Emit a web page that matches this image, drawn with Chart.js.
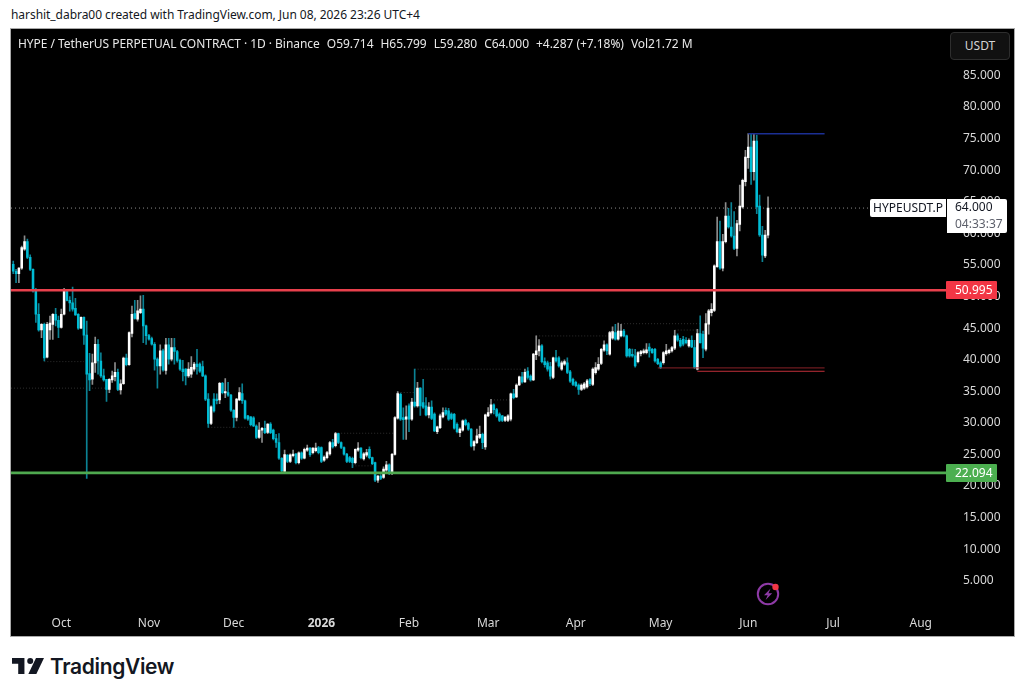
<!DOCTYPE html>
<html>
<head>
<meta charset="utf-8">
<title>HYPEUSDT.P daily</title>
<script src="https://cdn.jsdelivr.net/npm/chart.js@4"></script>
<style>
  html, body { margin: 0; padding: 0; background: #fff; width: 1024px; height: 698px; overflow: hidden; }
  body { position: relative; font-family: "Noto Sans", sans-serif; }
  .abs { position: absolute; white-space: nowrap; }
  #frame { left: 10px; top: 28px; width: 1003px; height: 607px; background: #000; border: 1px solid #a9a9a9; box-sizing: content-box; }
  #wrap { left: 11px; top: 29px; width: 1002px; height: 606px; }
  #credit { left: 11px; top: 7px; font-size: 12px; line-height: 16px; color: #131722; letter-spacing: -0.05px; }
  #legend { left: 18px; top: 36px; font-size: 12px; line-height: 16px; color: #e8e8e8; letter-spacing: -0.04px; }
  #legend span { margin-left: 7px; }
  #unit { left: 950px; top: 32px; width: 58px; height: 26px; line-height: 26px; text-align: center; font-size: 12px; color: #d4d4d4; background: #111; border: 1px solid #2e2e2e; border-radius: 4px; box-sizing: content-box; }
  .tag { font-size: 12px; line-height: 18px; height: 18px; }
  #tagSym { left: 870px; width: 76px; background: #fff; color: #131722; border-radius: 2px 0 0 2px; text-align: center; }
  #tagLast { left: 947px; width: 52px; padding-left: 8px; height: 34px; background: #fff; color: #131722; border-radius: 0 2px 2px 0; line-height: 16px; }
  #tagLast div { height: 17px; }
  #tagLast .cd { color: #5d606b; }
  .lvl { left: 946px; width: 42px; padding-left: 9px; color: #fff; border-radius: 1px; }
  #brand { left: 50px; top: 653px; font-family: Inter, "Noto Sans", sans-serif; font-size: 21px; line-height: 28px; font-weight: 600; color: #131722; letter-spacing: -0.35px; }
</style>
</head>
<body>
<div class="abs" id="credit">harshit_dabra00 created with TradingView.com, Jun 08, 2026 23:26 UTC+4</div>
<div class="abs" id="frame"></div>
<div class="abs" id="wrap"><canvas id="chart" width="1002" height="606"></canvas></div>
<div class="abs" id="legend">HYPE / TetherUS PERPETUAL CONTRACT · 1D · Binance<span>O59.714</span><span>H65.799</span><span>L59.280</span><span>C64.000</span><span>+4.287 (+7.18%)</span><span>Vol21.72 M</span></div>
<div class="abs" id="unit">USDT</div>
<div class="abs tag" id="tagSym">HYPEUSDT.P</div>
<div class="abs tag" id="tagLast"><div>64.000</div><div class="cd">04:33:37</div></div>
<div class="abs tag lvl" id="tagRes" style="background:#f23645">50.995</div>
<div class="abs tag lvl" id="tagSup" style="background:#4caf50">22.094</div>

<svg class="abs" style="left:756px;top:582px" width="26" height="26" viewBox="0 0 26 26">
  <circle cx="12" cy="12" r="10.2" fill="none" stroke="#8e3aa6" stroke-width="2"/>
  <path d="M14.6 6.5 8 13.2h3.7L9.6 18l6.6-6.8h-3.7z" fill="#8e3aa6"/>
  <circle cx="19.5" cy="5" r="3.2" fill="#f23645"/>
</svg>
<svg class="abs" style="left:12px;top:655px" width="32" height="22" viewBox="0 0 36 24">
  <path d="M14 3H0v6.5h7V21h7z" fill="#131722"/>
  <circle cx="20.5" cy="6.3" r="3.4" fill="#131722"/>
  <path d="M27 3h9l-8.6 18h-9z" fill="#131722"/>
</svg>
<div class="abs" id="brand">TradingView</div>

<script>
// Daily candles, Sep 14 2025 to Jun 8 2026
const firstDay = -17;   // days relative to Oct 1 2025
const opens = [
  55.10,54.00,53.60,54.50,57.50,58.70,56.20,54.30,51.00,47.20,
  44.70,45.60,40.40,44.70,45.60,47.20,46.25,45.10,47.20,50.90,
  49.40,49.00,48.15,47.20,45.00,46.70,43.90,37.80,36.90,39.50,
  42.45,39.80,37.45,36.90,35.30,36.80,37.30,38.00,35.20,36.20,
  40.24,39.20,44.15,47.30,46.40,47.45,48.00,45.35,43.80,43.35,
  42.45,40.10,39.00,41.40,38.30,42.35,40.10,41.90,41.30,39.90,
  38.50,38.50,37.45,37.70,38.50,39.30,39.30,38.90,37.45,33.75,
  29.90,33.75,33.75,33.65,36.25,34.75,34.80,34.40,32.00,30.85,
  33.65,34.64,33.50,31.10,30.95,30.80,29.50,27.70,28.85,29.15,
  28.50,29.80,28.85,27.50,26.90,24.40,22.30,24.90,23.90,24.80,
  25.05,23.70,25.25,24.40,25.70,26.00,25.30,25.60,26.10,26.10,
  24.10,24.50,25.10,26.90,26.40,28.30,26.90,26.10,25.05,24.50,
  24.40,23.70,25.70,26.00,24.30,24.90,25.80,24.50,23.70,20.92,
  21.60,21.35,22.50,23.35,22.00,25.00,30.75,34.50,30.85,30.60,
  32.70,30.60,33.30,32.70,35.50,33.20,32.70,31.25,32.50,31.40,
  28.60,29.26,30.95,32.00,31.90,31.40,31.37,29.78,28.47,28.84,
  30.40,29.90,29.00,26.36,26.88,27.70,28.20,26.20,31.10,31.60,
  32.85,32.10,31.40,31.10,30.40,30.40,30.60,34.60,34.10,36.00,
  37.30,36.50,38.20,37.40,36.80,40.80,41.40,42.20,39.70,39.50,
  38.90,37.20,40.30,40.30,38.50,39.30,39.50,38.10,36.90,36.40,
  36.00,35.30,35.50,35.70,36.85,36.10,37.96,38.50,39.40,41.50,
  42.34,40.86,43.40,44.30,43.24,43.76,44.55,43.76,41.65,40.86,
  40.60,39.70,40.97,41.10,41.13,42.00,41.65,41.65,40.07,39.50,
  39.54,40.97,41.13,41.39,41.81,43.76,43.08,43.24,43.08,42.18,
  43.08,41.92,38.50,44.13,44.03,41.65,45.61,47.45,47.82,54.73,
  58.69,54.47,58.69,62.75,61.01,59.58,57.63,61.43,64.17,68.18,
  71.98,73.67,69.76,74.62,64.33,59.74,56.42,59.714
];
const highs = [
  55.60,54.30,54.60,58.00,59.60,59.10,56.60,54.40,51.30,48.90,
  45.70,45.80,45.90,46.90,47.30,48.15,46.90,48.00,51.30,51.15,
  50.00,51.50,49.70,47.30,46.80,46.80,46.10,41.00,40.90,43.60,
  43.20,41.10,38.50,36.90,37.00,38.20,39.55,38.50,36.80,40.40,
  40.90,44.40,48.50,49.40,49.40,50.10,50.20,45.50,44.00,43.60,
  42.70,40.30,42.35,41.70,43.40,43.40,43.40,43.40,41.50,40.10,
  39.90,38.60,39.55,40.50,39.60,41.66,39.50,39.80,37.60,34.65,
  32.70,34.65,34.60,36.40,36.40,37.00,36.40,34.50,32.10,33.90,
  35.60,36.20,33.60,31.20,31.00,31.00,29.70,30.05,29.30,30.30,
  29.90,30.05,29.00,28.20,28.30,24.50,25.70,25.00,25.10,25.70,
  25.20,25.40,25.40,26.00,26.50,26.10,26.10,26.80,26.30,26.20,
  24.80,25.50,27.10,27.40,28.50,28.40,27.00,26.20,25.20,24.70,
  24.60,25.90,26.90,26.10,25.30,25.80,26.20,24.60,23.80,21.70,
  21.80,23.03,23.90,23.50,25.20,31.00,34.95,34.70,32.40,32.70,
  33.00,33.90,38.50,36.40,35.60,36.90,34.00,33.20,33.50,31.60,
  29.50,31.40,32.40,32.40,32.30,31.60,31.50,30.00,29.20,30.50,
  30.60,30.10,29.10,27.20,29.00,29.50,28.40,31.40,32.42,33.74,
  33.00,32.30,31.60,31.20,31.00,31.30,34.70,35.30,36.20,37.40,
  38.00,38.50,38.75,37.60,41.00,43.76,43.20,42.40,40.30,39.80,
  39.60,40.40,41.50,40.50,39.80,40.00,40.30,38.30,37.10,36.60,
  36.20,36.20,36.40,36.90,37.00,38.70,39.54,40.33,41.80,43.00,
  42.50,44.50,45.20,45.60,45.80,45.60,44.80,43.90,41.80,41.70,
  41.65,41.30,41.50,41.70,42.55,42.55,41.80,41.80,40.20,39.70,
  41.30,42.44,41.70,42.10,44.66,44.10,43.40,43.70,43.50,43.30,
  43.76,43.08,44.80,46.93,44.55,47.30,47.98,48.88,55.00,62.59,
  61.96,59.85,64.86,63.96,64.86,63.43,62.06,67.65,68.60,73.14,
  75.78,75.78,75.67,75.56,66.07,61.11,60.48,65.799
];
const lows = [
  53.63,52.20,52.20,54.30,57.30,56.00,54.10,50.70,45.90,44.50,
  43.50,39.80,40.30,43.20,43.20,45.35,43.50,45.00,47.10,49.30,
  47.70,47.70,47.00,44.80,44.90,42.40,21.20,35.10,36.10,38.00,
  37.70,37.20,36.60,33.40,34.80,36.40,36.65,35.10,34.55,36.10,
  39.00,39.10,43.60,46.40,46.10,47.30,42.70,42.40,43.10,42.30,
  38.35,35.50,37.70,38.20,37.70,39.30,39.80,39.30,39.60,38.30,
  36.65,36.00,37.20,37.20,38.20,37.70,38.00,37.30,33.50,29.30,
  29.70,31.70,33.00,33.05,34.60,34.00,34.20,31.80,29.30,30.30,
  33.50,33.10,30.60,30.40,29.50,29.40,27.50,27.55,26.90,28.30,
  28.30,28.30,27.30,26.10,24.20,22.10,22.20,23.70,23.70,24.60,
  23.50,23.50,24.20,24.30,25.50,24.70,25.10,25.40,25.10,23.70,
  23.90,24.30,24.90,26.00,26.20,26.70,25.90,24.90,23.70,23.70,
  22.90,23.50,25.50,24.30,24.10,24.60,24.30,23.40,20.70,20.56,
  21.00,21.20,22.30,21.80,21.80,24.90,30.60,30.40,27.40,27.40,
  28.60,30.40,32.50,32.50,31.20,32.30,31.10,30.80,30.50,28.60,
  28.30,29.10,30.80,31.20,30.40,30.50,29.00,28.40,27.80,28.70,
  29.50,28.80,26.20,25.67,26.70,27.50,25.90,25.80,31.00,31.40,
  31.40,30.90,30.20,30.20,30.20,30.20,30.30,33.80,34.00,35.90,
  36.30,36.40,36.90,36.60,36.70,40.00,40.60,39.50,38.80,38.20,
  36.90,37.00,39.60,38.80,38.30,39.10,37.80,36.40,35.90,35.70,
  34.50,35.10,35.30,35.50,35.90,35.90,37.70,38.30,39.20,41.30,
  40.80,40.70,43.20,43.10,43.10,43.60,43.60,40.40,40.40,40.40,
  38.80,39.50,40.60,40.90,40.90,40.40,41.00,39.60,39.20,38.60,
  39.30,40.70,40.90,41.20,41.60,42.90,42.00,42.20,42.50,42.00,
  41.90,38.60,38.40,42.60,40.33,41.40,44.03,46.93,47.60,54.60,
  54.30,54.05,58.50,60.80,59.40,57.40,56.42,60.38,64.00,67.50,
  70.29,67.76,68.40,63.12,59.50,55.52,56.16,59.28
];
const closes = [
  54.00,53.60,54.50,57.75,58.70,56.20,54.30,50.90,47.20,44.70,
  45.60,40.30,45.60,45.80,47.20,46.25,45.10,47.20,51.00,49.40,
  49.00,48.00,47.10,45.00,46.70,43.90,37.70,36.80,39.50,42.45,
  39.80,37.45,36.80,35.30,36.90,37.45,38.00,35.30,36.20,40.24,
  39.20,44.30,47.20,46.55,47.75,48.00,45.35,43.80,43.25,42.45,
  40.10,39.00,41.40,38.40,42.35,40.10,41.90,41.30,39.90,38.50,
  38.10,37.45,38.50,38.80,39.30,38.90,38.20,37.45,33.75,29.90,
  32.55,31.90,33.50,36.25,34.80,34.95,34.40,32.00,30.85,33.75,
  34.80,33.50,30.75,30.60,29.70,29.50,27.70,28.85,29.15,28.47,
  29.80,28.47,27.50,26.90,24.40,22.40,25.00,23.90,24.95,25.05,
  23.70,25.25,24.40,25.83,26.00,24.95,26.00,26.00,25.30,23.90,
  24.60,25.30,26.90,26.20,28.30,26.90,26.10,25.05,23.90,23.90,
  23.70,25.80,26.00,24.50,25.10,25.30,24.50,23.56,20.92,21.60,
  21.20,22.67,23.35,22.00,25.04,30.85,34.64,30.60,30.50,30.95,
  30.60,33.30,32.70,35.50,32.70,32.50,31.25,32.50,30.70,28.73,
  29.36,31.10,31.63,31.37,30.60,30.70,29.15,28.62,29.00,30.31,
  29.70,29.00,26.36,27.04,27.94,28.20,26.88,31.26,31.63,32.85,
  32.10,31.10,30.40,30.40,30.90,31.10,34.60,34.00,36.00,37.30,
  36.50,38.00,37.20,36.80,40.90,41.40,42.20,39.70,39.20,38.50,
  37.40,40.30,39.80,39.00,39.50,39.70,38.00,36.60,36.10,35.90,
  35.30,36.00,36.20,36.64,36.20,38.50,38.75,39.28,41.65,42.34,
  41.39,44.29,44.45,43.24,44.55,44.55,43.76,40.60,40.60,40.60,
  39.02,41.13,41.28,41.39,41.55,41.40,41.13,39.81,39.38,38.75,
  41.13,41.39,41.50,41.92,43.76,43.08,42.18,42.44,42.71,43.08,
  42.02,38.75,44.13,42.70,41.81,45.71,47.72,47.98,54.84,58.69,
  54.47,58.69,62.75,61.01,59.58,57.63,61.54,64.33,68.39,72.08,
  73.67,69.76,74.62,64.17,59.74,56.53,59.74,64.00
];

// Axis labels
const priceTicks = [5,10,15,20,25,30,35,40,45,50,55,60,65,70,75,80,85];
const monthDays = [0,31,61,92,123,151,182,212,243,273,304];
const monthNames = ['Oct','Nov','Dec','2026','Feb','Mar','Apr','May','Jun','Jul','Aug'];

// Horizontal levels
const lastPrice = 64.0;
const resistance = 50.995;
const support = 22.094;
// Drawn segments: [price, from day, to day]
const highLevel = [75.78, 243, 270];
const lowLevelA = [38.70, 211, 270];
const lowLevelB = [38.17, 225, 270];
// Faint swing markers: [price, from day, to day]
const swingMarkers = [
  [39.7,-6,8],[35.5,-17.8,16],[29.3,52,66],[34.8,119,125],[38.5,125,163],
  [28.36,99,118],[23.2,103,110],[33.64,152,159],[43.76,168,194],[45.7,198,226],[44.7,217,225]
];

const axisMin = -17.79, axisMax = 312.95;
const UP = '#ffffff', DOWN = '#00bcd4', UP_WICK = '#8c8c8c', DOWN_WICK = '#0b8294';

const days = closes.map((_, i) => firstDay + i);
const isUp = closes.map((c, i) => c >= opens[i]);

function segment(level, extra) {
  return Object.assign({
    type: 'line',
    data: [{x: level[1], y: level[0]}, {x: level[2], y: level[0]}],
    pointRadius: 0, tension: 0, order: 0, borderWidth: 1
  }, extra);
}

const bodyData = days.map((d, i) => ({x: d, y: [opens[i], closes[i]]}));
const wickData = days.map((d, i) => ({x: d, y: [lows[i], highs[i]]}));

const datasets = [
  {type: 'bar', data: bodyData, backgroundColor: isUp.map(u => u ? UP : DOWN), barThickness: 1.9, grouped: false, order: 2, minBarLength: 1},
  {type: 'bar', data: wickData, backgroundColor: isUp.map(u => u ? UP_WICK : DOWN_WICK), barThickness: 1, grouped: false, order: 3},
  segment([lastPrice, axisMin, axisMax], {borderColor: '#8a8a8a', borderDash: [1, 3], order: 4}),
  segment([resistance, axisMin, axisMax], {borderColor: '#e8404c', borderWidth: 2.6, order: 0}),
  segment([support, axisMin, axisMax], {borderColor: '#4fa94f', borderWidth: 2.6, order: 0}),
  segment(highLevel, {borderColor: '#1b2f94', borderWidth: 1.5}),
  segment(lowLevelA, {borderColor: '#8a2228'}),
  segment(lowLevelB, {borderColor: '#c0303a'})
];
swingMarkers.forEach(m => datasets.push(segment(m, {borderColor: '#2e2e2e', borderDash: [1, 2], order: 5})));

const chart = new Chart(document.getElementById('chart'), {
  data: {datasets},
  options: {
    responsive: false,
    animation: false,
    events: [],
    layout: {padding: 0},
    plugins: {legend: {display: false}, tooltip: {enabled: false}},
    scales: {
      x: {
        type: 'linear', min: axisMin, max: axisMax, offset: false,
        grid: {display: false}, border: {display: false},
        afterBuildTicks(scale) { scale.ticks = monthDays.map(v => ({value: v})); },
        afterFit(scale) { scale.height = 27; },
        ticks: {
          autoSkip: false, maxRotation: 0, padding: 0, color: '#d8d8d8',
          font: ctx => ({family: '"Noto Sans"', size: 12, weight: ctx.tick && ctx.tick.value === 92 ? 'bold' : 'normal'}),
          callback: v => monthNames[monthDays.indexOf(v)]
        }
      },
      y: {
        position: 'right', min: 0.70, max: 89.78,
        grid: {display: false}, border: {display: false},
        afterBuildTicks(scale) { scale.ticks = priceTicks.map(v => ({value: v})); },
        afterFit(scale) { scale.width = 67; },
        ticks: {
          padding: 9, color: '#d8d8d8', font: {family: '"Noto Sans"', size: 12},
          callback: v => v.toFixed(3)
        }
      }
    }
  }
});

// Price tags sit on the scale at their own values
const yPixel = v => 29 + chart.scales.y.getPixelForValue(v);
document.getElementById('tagRes').style.top = (yPixel(resistance) - 9) + 'px';
document.getElementById('tagSup').style.top = (yPixel(support) - 9) + 'px';
document.getElementById('tagSym').style.top = (yPixel(lastPrice) - 9) + 'px';
document.getElementById('tagLast').style.top = (yPixel(lastPrice) - 9) + 'px';
</script>
</body>
</html>
